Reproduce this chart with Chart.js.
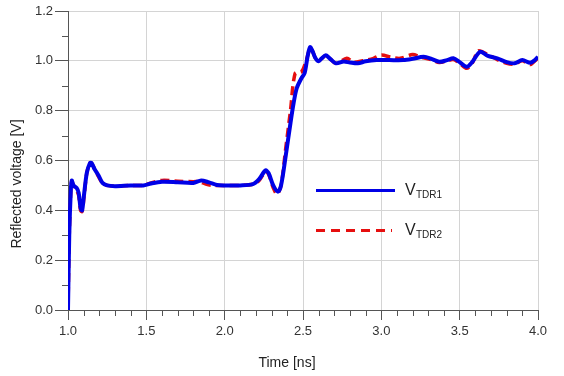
<!DOCTYPE html>
<html lang="en">
<head>
  <meta charset="UTF-8">
  <title>TDR reflected voltage</title>
  <script src="https://cdn.jsdelivr.net/npm/chart.js"></script>
  <style>
    body {
      margin: 0;
      background-color: #ffffff;
    }
    #tdrChart {
      display: block;
    }
  </style>
</head>
<body>
  <canvas id="tdrChart" width="564" height="376"></canvas>

  <script>
    // Measured waveforms (time in ns, voltage in V)
    var tdr1Time = [1.000, 1.008, 1.018, 1.024, 1.035, 1.055, 1.068, 1.080, 1.090, 1.100, 1.120, 1.140, 1.150, 1.170, 1.195, 1.220, 1.250,
                    1.30, 1.40, 1.48, 1.53, 1.60, 1.70, 1.80, 1.85, 1.90, 1.95, 2.00, 2.10, 2.18, 2.22, 2.26, 2.28, 2.31, 2.34, 2.36,
                    2.39, 2.42, 2.44, 2.46, 2.49, 2.51, 2.53, 2.545, 2.56, 2.58, 2.60, 2.62, 2.645, 2.67, 2.71, 2.76, 2.80, 2.85, 2.90,
                    2.97, 3.05, 3.14, 3.20, 3.27, 3.32, 3.37, 3.42, 3.46, 3.50, 3.545, 3.58, 3.63, 3.68, 3.74, 3.80, 3.85, 3.90, 3.95, 3.98, 4.00];
    var tdr1Volt = [0.00, 0.30, 0.48, 0.52, 0.50, 0.49, 0.47, 0.41, 0.40, 0.45, 0.55, 0.59, 0.59, 0.565, 0.54, 0.51, 0.50,
                    0.497, 0.50, 0.50, 0.508, 0.515, 0.513, 0.51, 0.52, 0.512, 0.502, 0.50, 0.50, 0.505, 0.525, 0.56, 0.55, 0.50, 0.475, 0.50,
                    0.62, 0.75, 0.83, 0.89, 0.93, 0.95, 1.02, 1.055, 1.04, 1.01, 0.998, 1.01, 1.022, 1.01, 0.99, 0.997, 0.993, 0.99, 0.998,
                    1.003, 1.003, 1.003, 1.008, 1.016, 1.008, 0.996, 1.003, 1.01, 0.995, 0.976, 0.995, 1.036, 1.02, 1.01, 0.995, 0.99, 1.003, 0.992, 1.003, 1.016];

    var tdr2Time = [1.000, 1.008, 1.018, 1.024, 1.035, 1.055, 1.068, 1.080, 1.090, 1.100, 1.120, 1.140, 1.150, 1.170, 1.195, 1.220, 1.250,
                    1.30, 1.40, 1.48, 1.53, 1.60, 1.70, 1.80, 1.84, 1.88, 1.92, 2.00, 2.10, 2.18, 2.22, 2.26, 2.28, 2.31, 2.335, 2.36,
                    2.39, 2.42, 2.45, 2.49, 2.52, 2.545, 2.56, 2.58, 2.60, 2.62, 2.645, 2.67, 2.71, 2.78, 2.82, 2.88, 2.95, 3.00, 3.06,
                    3.12, 3.20, 3.25, 3.32, 3.37, 3.42, 3.46, 3.50, 3.545, 3.58, 3.62, 3.68, 3.74, 3.80, 3.85, 3.90, 3.95, 3.98, 4.00];
    var tdr2Volt = [0.00, 0.30, 0.48, 0.515, 0.50, 0.48, 0.46, 0.40, 0.395, 0.44, 0.55, 0.59, 0.59, 0.565, 0.535, 0.51, 0.50,
                    0.497, 0.50, 0.50, 0.51, 0.52, 0.517, 0.515, 0.515, 0.505, 0.50, 0.50, 0.50, 0.505, 0.52, 0.555, 0.545, 0.49, 0.465, 0.50,
                    0.65, 0.80, 0.95, 0.956, 1.00, 1.05, 1.04, 1.01, 1.00, 1.01, 1.02, 1.01, 0.99, 1.01, 0.995, 1.00, 1.01, 1.023, 1.015,
                    1.01, 1.025, 1.015, 1.005, 0.993, 1.00, 1.005, 0.99, 0.97, 0.99, 1.04, 1.025, 1.005, 0.99, 0.987, 1.00, 0.985, 1.00, 1.01];

    var xTickValues = [1.0, 1.5, 2.0, 2.5, 3.0, 3.5, 4.0];
    var yTickValues = [0.0, 0.2, 0.4, 0.6, 0.8, 1.0, 1.2];
    var xMinorStep = 0.1;
    var yMinorStep = 0.1;

    var seriesNames = ['TDR1', 'TDR2'];
    var xTitle = 'Time [ns]';
    var yTitle = 'Reflected voltage [V]';

    var blue = '#0000e6';
    var red = '#e60f0f';
    var axisColor = '#555555';
    var gridColor = '#d4d4d4';
    var fontFamily = '"Liberation Sans", Arial, sans-serif';

    function toPoints(xs, ys) {
      return xs.map(function (x, i) { return { x: x, y: ys[i] }; });
    }

    // minor ticks, axis titles and the in-plot legend
    var decorPlugin = {
      id: 'decor',
      afterDraw: function (chart) {
        var ctx = chart.ctx;
        var xs = chart.scales.x;
        var ys = chart.scales.y;
        var area = chart.chartArea;

        ctx.save();
        ctx.strokeStyle = axisColor;
        ctx.lineWidth = 1;
        ctx.beginPath();
        for (var i = 1; i < 30; i++) {
          if (i % 5 === 0) continue;
          var px = Math.round(xs.getPixelForValue(1 + i * xMinorStep)) + 0.5;
          ctx.moveTo(px, area.bottom);
          ctx.lineTo(px, area.bottom + 6);
        }
        for (var j = 1; j < 12; j++) {
          if (j % 2 === 0) continue;
          var py = Math.round(ys.getPixelForValue(j * yMinorStep)) + 0.5;
          ctx.moveTo(area.left, py);
          ctx.lineTo(area.left - 6, py);
        }
        ctx.stroke();

        // axis titles
        ctx.fillStyle = '#222';
        ctx.font = '14px ' + fontFamily;
        ctx.textAlign = 'center';
        ctx.textBaseline = 'middle';
        ctx.fillText(xTitle, 287, 363);
        ctx.translate(17, 184);
        ctx.rotate(-Math.PI / 2);
        ctx.fillText(yTitle, 0, 0);
        ctx.restore();

        // legend
        ctx.save();
        ctx.lineWidth = 3;
        ctx.strokeStyle = blue;
        ctx.beginPath();
        ctx.moveTo(316, 190.5);
        ctx.lineTo(395, 190.5);
        ctx.stroke();
        ctx.strokeStyle = red;
        ctx.setLineDash([9, 6]);
        ctx.beginPath();
        ctx.moveTo(316, 230.5);
        ctx.lineTo(392, 230.5);
        ctx.stroke();

        ctx.fillStyle = '#222';
        ctx.textAlign = 'left';
        ctx.textBaseline = 'alphabetic';
        [[195, seriesNames[0]], [235, seriesNames[1]]].forEach(function (row) {
          ctx.font = '16px ' + fontFamily;
          ctx.fillText('V', 405, row[0]);
          ctx.font = '10px ' + fontFamily;
          ctx.fillText(row[1], 416, row[0] + 3);
        });
        ctx.restore();
      }
    };

    var ctx = document.getElementById('tdrChart').getContext('2d');

    var tdrChart = new Chart(ctx, {
      type: 'line',
      data: {
        datasets: [
          {
            label: 'VTDR1',
            data: toPoints(tdr1Time, tdr1Volt),
            borderColor: blue,
            borderWidth: 4,
            pointRadius: 0,
            tension: 0.3,
            fill: false
          },
          {
            label: 'VTDR2',
            data: toPoints(tdr2Time, tdr2Volt),
            borderColor: red,
            borderWidth: 3.5,
            borderDash: [9, 5],
            pointRadius: 0,
            tension: 0.3,
            fill: false
          }
        ]
      },
      options: {
        responsive: false,
        animation: false,
        layout: {
          padding: { top: 11, right: 26, left: 0, bottom: 0 }
        },
        plugins: {
          legend: { display: false },
          tooltip: { enabled: false }
        },
        scales: {
          x: {
            type: 'linear',
            min: 1.0,
            max: 4.0,
            afterBuildTicks: function (scale) {
              scale.ticks = xTickValues.map(function (v) { return { value: v }; });
            },
            afterFit: function (scale) { scale.height = 66; },
            ticks: {
              color: '#333',
              font: { family: fontFamily, size: 13 },
              padding: 4,
              maxRotation: 0,
              callback: function (v) { return v.toFixed(1); }
            },
            grid: {
              color: gridColor,
              tickColor: axisColor,
              tickLength: 10,
              lineWidth: 1
            },
            border: { color: axisColor, width: 1 }
          },
          y: {
            min: 0.0,
            max: 1.2,
            afterBuildTicks: function (scale) {
              scale.ticks = yTickValues.map(function (v) { return { value: v }; });
            },
            afterFit: function (scale) { scale.width = 68; },
            ticks: {
              color: '#333',
              font: { family: fontFamily, size: 13 },
              padding: 2,
              callback: function (v) { return v.toFixed(1); }
            },
            grid: {
              color: gridColor,
              tickColor: axisColor,
              tickLength: 13,
              lineWidth: 1
            },
            border: { color: axisColor, width: 1 }
          }
        }
      },
      plugins: [decorPlugin]
    });
  </script>
</body>
</html>
